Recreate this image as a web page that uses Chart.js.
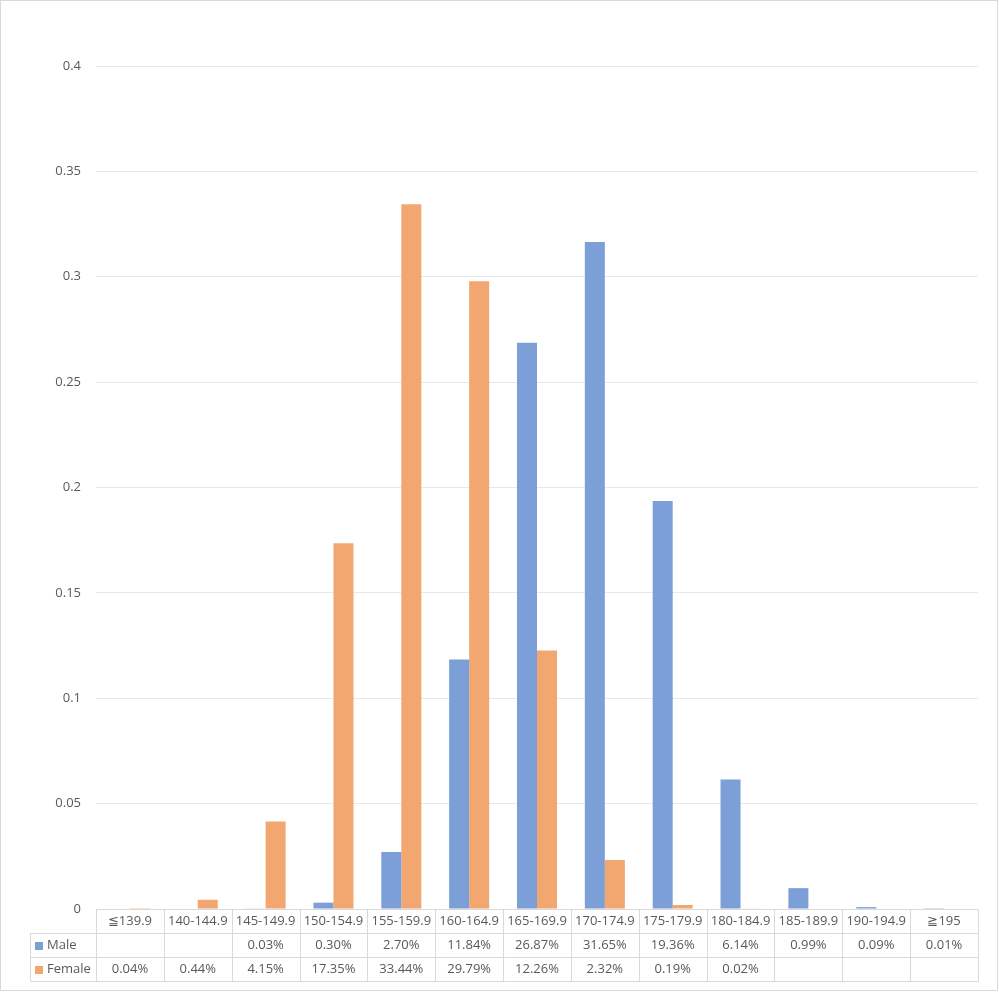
<!DOCTYPE html>
<html>
<head>
<meta charset="utf-8">
<script src="https://cdn.jsdelivr.net/npm/chart.js@4/dist/chart.umd.min.js"></script>
<style>
  html, body { margin: 0; padding: 0; background: #fff; }
  #wrap { width: 999px; height: 992px; position: relative; }
</style>
</head>
<body>
<div id="wrap"><canvas id="c" width="999" height="992"></canvas></div>
<script>
const categories = ['≦139.9','140-144.9','145-149.9','150-154.9','155-159.9','160-164.9','165-169.9','170-174.9','175-179.9','180-184.9','185-189.9','190-194.9','≧195'];
const seriesNames = ['Male', 'Female'];
const maleValues = [null, null, 0.0003, 0.0030, 0.0270, 0.1184, 0.2687, 0.3165, 0.1936, 0.0614, 0.0099, 0.0009, 0.0001];
const femaleValues = [0.0004, 0.0044, 0.0415, 0.1735, 0.3344, 0.2979, 0.1226, 0.0232, 0.0019, 0.0002, null, null, null];
const yTicks = [0, 0.05, 0.1, 0.15, 0.2, 0.25, 0.3, 0.35, 0.4];

const maleColor = 'rgb(125,159,216)';
const femaleColor = 'rgb(242,167,112)';
const textColor = '#595959';
const lineColor = '#D9D9D9';
const FONT = '"Open Sans", "Noto Sans", sans-serif';

const tablePlugin = {
  id: 'dataTable',
  beforeDraw(chart) {
    const ctx = chart.ctx;
    ctx.save();
    ctx.fillStyle = '#fff';
    ctx.fillRect(0, 0, chart.width, chart.height);
    ctx.strokeStyle = lineColor;
    ctx.lineWidth = 1;
    ctx.strokeRect(0.5, 0.5, chart.width - 2, chart.height - 2);
    ctx.restore();
  },
  afterDraw(chart) {
    const ctx = chart.ctx;
    const a = chart.chartArea;
    const xs = chart.scales.x;
    const n = categories.length;
    const colW = (a.right - a.left) / n;
    const rowH = 24;
    const top = Math.round(a.bottom) + 0.5;
    const legendLeft = 30.5;
    const right = Math.round(a.right) + 0.5;
    const left = Math.round(a.left) + 0.5;
    ctx.save();
    ctx.strokeStyle = lineColor;
    ctx.lineWidth = 1;
    ctx.beginPath();
    ctx.moveTo(left, top); ctx.lineTo(right, top);
    for (let r = 1; r <= 3; r++) {
      ctx.moveTo(legendLeft, top + r * rowH); ctx.lineTo(right, top + r * rowH);
    }
    ctx.moveTo(legendLeft, top + rowH); ctx.lineTo(legendLeft, top + 3 * rowH);
    for (let i = 0; i <= n; i++) {
      const x = Math.round(a.left + i * colW) + 0.5;
      ctx.moveTo(x, top); ctx.lineTo(x, top + 3 * rowH);
    }
    ctx.stroke();

    ctx.font = '13px ' + FONT;
    ctx.fillStyle = textColor;
    ctx.textAlign = 'center';
    ctx.textBaseline = 'middle';
    for (let i = 0; i < n; i++) {
      const cx = xs.getPixelForValue(i);
      ctx.fillText(categories[i], cx, top + rowH / 2);
      const rows = [maleValues, femaleValues];
      rows.forEach((vals, r) => {
        const v = vals[i];
        if (v !== null && v !== undefined) {
          ctx.fillText((v * 100).toFixed(2) + '%', cx, top + rowH * (r + 1) + rowH / 2);
        }
      });
    }
    ctx.textAlign = 'left';
    [maleColor, femaleColor].forEach((c, r) => {
      const cy = top + rowH * (r + 1) + rowH / 2;
      ctx.fillStyle = c;
      ctx.fillRect(35, Math.round(cy) - 4, 8, 8);
      ctx.fillStyle = textColor;
      ctx.fillText(seriesNames[r], 47, cy);
    });
    ctx.restore();
  }
};

new Chart(document.getElementById('c'), {
  type: 'bar',
  data: {
    labels: categories,
    datasets: [
      { label: seriesNames[0], data: maleValues, backgroundColor: maleColor, borderWidth: 0, categoryPercentage: 0.59, barPercentage: 1.0 },
      { label: seriesNames[1], data: femaleValues, backgroundColor: femaleColor, borderWidth: 0, categoryPercentage: 0.59, barPercentage: 1.0 }
    ]
  },
  options: {
    responsive: false,
    animation: false,
    devicePixelRatio: 1,
    layout: { padding: { left: 30, right: 21, top: 66, bottom: 83 } },
    plugins: { legend: { display: false }, tooltip: { enabled: false } },
    scales: {
      x: {
        afterFit(s) { s.height = 0; },
        ticks: { display: false },
        grid: { display: false },
        border: { display: false }
      },
      y: {
        min: 0, max: 0.4,
        afterBuildTicks(s) { s.ticks = yTicks.map(v => ({ value: v })); },
        afterFit(s) { s.width = 66; },
        ticks: {
          color: textColor,
          font: { family: FONT, size: 13 },
          padding: 15,
          callback: v => String(Number(Number(v).toFixed(2)))
        },
        grid: { color: '#E8E8E8', drawTicks: false },
        border: { display: false }
      }
    }
  },
  plugins: [tablePlugin]
});
</script>
</body>
</html>
